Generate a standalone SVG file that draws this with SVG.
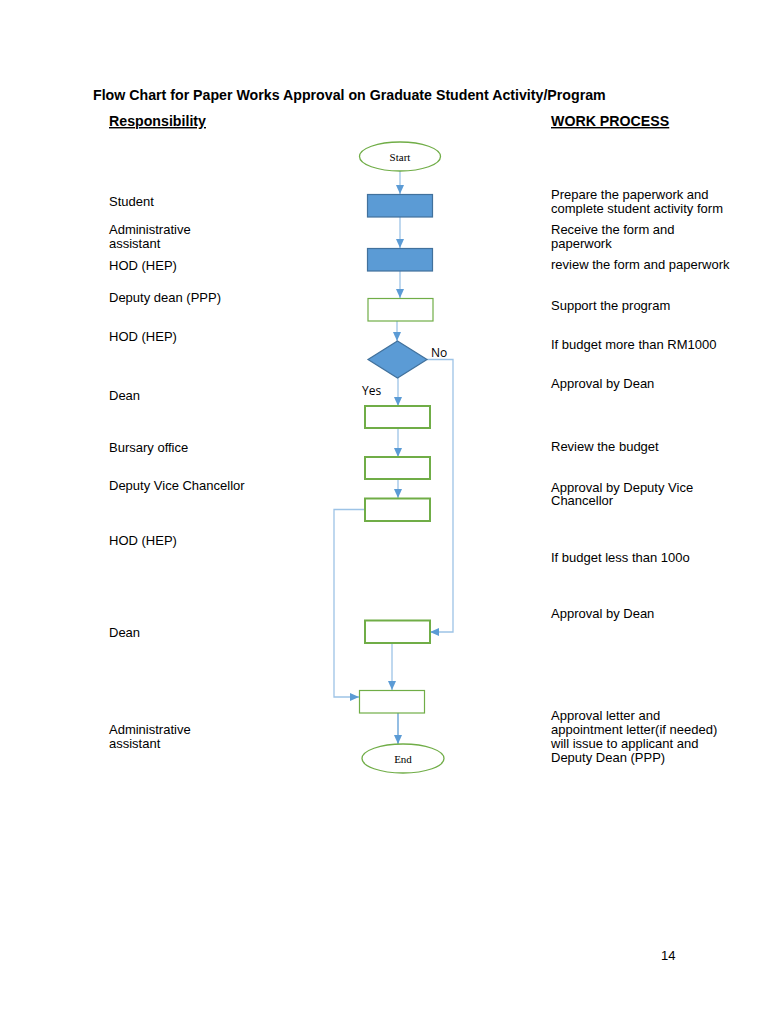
<svg xmlns="http://www.w3.org/2000/svg" width="768" height="1024" viewBox="0 0 768 1024">
<style>
  .t{font-family:"Liberation Sans",Arial,sans-serif;font-size:13px;fill:#000}
  .b{font-weight:bold;font-size:14.2px}
  .u{text-decoration:underline}
  .s{font-family:"Liberation Serif","Times New Roman",serif;font-size:11px;fill:#000}
  .lbl{font-family:"Open Sans","Liberation Sans",sans-serif;font-size:12px;fill:#000}
  .blue{fill:#5b9bd5;stroke:#41719c;stroke-width:1.2}
  .green{fill:#fff;stroke:#70ad47;stroke-width:2}
  .thin{fill:#fff;stroke:#70ad47;stroke-width:1.2}
  .c{fill:none;stroke:#9dc3e6;stroke-width:1.3}
  .cd{fill:none;stroke:#5b9bd5;stroke-width:1.3}
</style>
<defs>
  <marker id="ah" markerUnits="userSpaceOnUse" markerWidth="9" markerHeight="8" refX="9" refY="4" orient="auto">
    <path d="M0,0 L9,4 L0,8 z" fill="#5b9bd5"/>
  </marker>
</defs>
<rect width="768" height="1024" fill="#fff"/>

<text class="t b" x="93" y="100">Flow Chart for Paper Works Approval on Graduate Student Activity/Program</text>
<text class="t b u" x="109" y="126">Responsibility</text>
<text class="t b u" x="551" y="126">WORK PROCESS</text>

<g id="responsibility">
  <text class="t" x="109" y="206">Student</text>
  <text class="t" x="109" y="234">Administrative</text>
  <text class="t" x="109" y="248">assistant</text>
  <text class="t" x="109" y="270">HOD (HEP)</text>
  <text class="t" x="109" y="302">Deputy dean (PPP)</text>
  <text class="t" x="109" y="341">HOD (HEP)</text>
  <text class="t" x="109" y="400">Dean</text>
  <text class="t" x="109" y="452">Bursary office</text>
  <text class="t" x="109" y="490">Deputy Vice Chancellor</text>
  <text class="t" x="109" y="545">HOD (HEP)</text>
  <text class="t" x="109" y="637">Dean</text>
  <text class="t" x="109" y="734">Administrative</text>
  <text class="t" x="109" y="748">assistant</text>
</g>

<g id="work-process">
  <text class="t" x="551" y="199">Prepare the paperwork and</text>
  <text class="t" x="551" y="213">complete student activity form</text>
  <text class="t" x="551" y="234">Receive the form and</text>
  <text class="t" x="551" y="248">paperwork</text>
  <text class="t" x="551" y="269">review the form and paperwork</text>
  <text class="t" x="551" y="310">Support the program</text>
  <text class="t" x="551" y="349">If budget more than RM1000</text>
  <text class="t" x="551" y="388">Approval by Dean</text>
  <text class="t" x="551" y="451">Review the budget</text>
  <text class="t" x="551" y="492">Approval by Deputy Vice</text>
  <text class="t" x="551" y="505">Chancellor</text>
  <text class="t" x="551" y="562">If budget less than 100o</text>
  <text class="t" x="551" y="618">Approval by Dean</text>
  <text class="t" x="551" y="720">Approval letter and</text>
  <text class="t" x="551" y="734">appointment letter(if needed)</text>
  <text class="t" x="551" y="748">will issue to applicant and</text>
  <text class="t" x="551" y="762">Deputy Dean (PPP)</text>
</g>

<g id="connectors">
  <path class="c" d="M400,171 L400,194" marker-end="url(#ah)"/>
  <path class="c" d="M400,217 L400,248" marker-end="url(#ah)"/>
  <path class="c" d="M400,271 L400,298" marker-end="url(#ah)"/>
  <path class="c" d="M397,321 L397,341" marker-end="url(#ah)"/>
  <path class="c" d="M398,378 L398,406" marker-end="url(#ah)"/>
  <path class="c" d="M398,428 L398,457" marker-end="url(#ah)"/>
  <path class="c" d="M398,479 L398,498" marker-end="url(#ah)"/>
  <path class="c" d="M427,359.5 L453,359.5 L453,632 L430,632" marker-end="url(#ah)"/>
  <path class="c" d="M365,509.5 L334,509.5 L334,697 L359,697" marker-end="url(#ah)"/>
  <path class="c" d="M392,643 L392,690" marker-end="url(#ah)"/>
  <path class="cd" d="M398,713 L398,744" marker-end="url(#ah)"/>
  <text class="lbl" x="431" y="357">No</text>
  <text class="lbl" x="362" y="395">Yes</text>
</g>

<g id="start">
  <ellipse cx="400" cy="156.5" rx="40.5" ry="14.5" fill="#fff" stroke="#70ad47" stroke-width="1.3"/>
  <text class="s" x="400" y="160.5" text-anchor="middle">Start</text>
</g>
<g id="student-box"><rect class="blue" x="367.5" y="194.5" width="65" height="22.5"/></g>
<g id="admin-box"><rect class="blue" x="367.5" y="248.5" width="65" height="22.5"/></g>
<g id="deputy-dean-box"><rect class="thin" x="368" y="298.5" width="65" height="22.5" stroke-width="1.6"/></g>
<g id="decision"><polygon points="397.5,341 427,359.5 397.5,378 368,359.5" fill="#5b9bd5" stroke="#41719c" stroke-width="1.2"/></g>
<g id="dean-box"><rect class="green" x="365" y="406" width="65" height="22"/></g>
<g id="bursary-box"><rect class="green" x="365" y="457" width="65" height="22"/></g>
<g id="dvc-box"><rect class="green" x="365" y="498.5" width="65" height="22.5"/></g>
<g id="dean2-box"><rect class="green" x="365" y="620.5" width="65" height="22.5"/></g>
<g id="admin2-box"><rect class="thin" x="359.5" y="690.5" width="65" height="22.5"/></g>
<g id="end">
  <ellipse cx="403" cy="758.5" rx="41" ry="14.5" fill="#fff" stroke="#70ad47" stroke-width="1.3"/>
  <text class="s" x="403" y="762.5" text-anchor="middle">End</text>
</g>

<text class="t" x="661" y="960">14</text>
</svg>
